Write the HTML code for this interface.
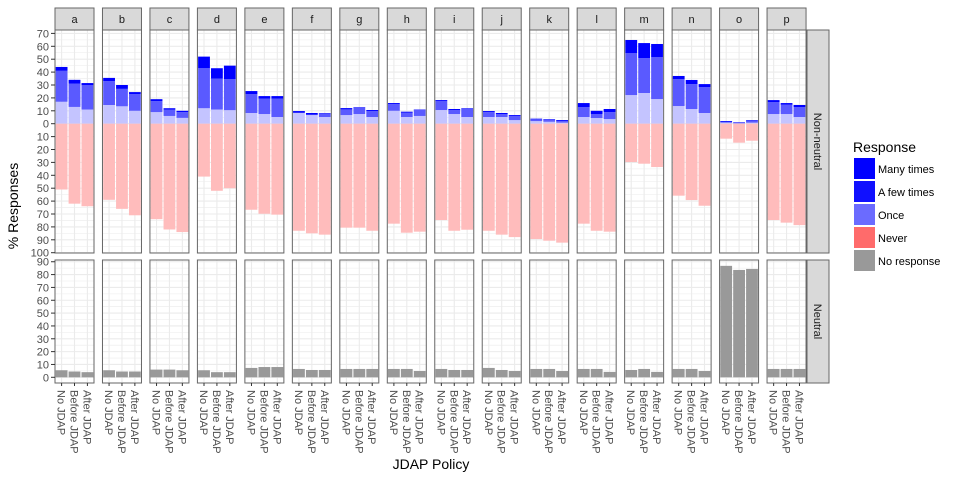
<!DOCTYPE html>
<html><head><meta charset="utf-8"><style>
body{margin:0;background:#fff;}
svg{display:block;font-family:"Liberation Sans",Arial,sans-serif;}
</style></head><body>
<svg id="chart" width="960" height="480" viewBox="0 0 960 480" xmlns="http://www.w3.org/2000/svg">
<g id="panels"></g>
<g id="axes"></g>
<text x="431" y="469" font-size="14" text-anchor="middle" fill="#000">JDAP Policy</text>
<text transform="translate(18,206) rotate(-90)" font-size="14" text-anchor="middle" fill="#000">% Responses</text>
<g id="legend"></g>
</svg>
<script>
const facets = ["a","b","c","d","e","f","g","h","i","j","k","l","m","n","o","p"];
const policies = ["No JDAP","Before JDAP","After JDAP"];
const onceVals = [[17,13,11],[14.5,13.5,10],[9,6,4.5],[12,11,10.5],[8.3,7.5,5.2],[8.3,6.7,5.2],[6.7,7.5,5.2],[10,5.2,6],[10.6,7.5,5.2],[5.2,5.2,2.8],[2,1.5,0.8],[5.2,4.4,3.6],[22.2,23.8,19.1],[13.7,11.4,8.3],[0.8,0.3,0.8],[7.5,7.5,5.2]];
const fewVals = [[24,18,19],[18.5,13.5,13],[8.5,5,4.5],[31,24,24],[14.7,11.9,14.2],[0.2,0.3,2.8],[4.4,5.2,4.6],[5.2,3.3,4.9],[7,3.1,6.2],[3.8,2.3,3.2],[1.4,1.3,1.2],[7.7,3.1,5.4],[32.6,27.1,32.6],[20.9,19.3,20.1],[0.5,0.2,1.5],[9.3,7.2,7.7]];
const manyVals = [[3,3,1.5],[2.5,3,1.5],[1.5,1,1],[9,8,10.5],[2.3,2,2],[1.3,1.3,0.3],[1,0.2,0.8],[0.8,0.8,0.2],[0.7,0.8,0.5],[0.8,0.8,0.7],[0.5,0.6,0.8],[3.1,2.5,2.4],[10.1,11.6,10.1],[2.4,3.2,2.3],[0.7,0.5,0.5],[1.5,1.3,1.6]];
const neverVals = [[51,62,64],[59,66,71],[74,82,84],[41,52,50],[66.7,69.8,70.5],[83,85,86],[80.6,80.6,83],[77.5,84.5,83.7],[74.7,83,82.2],[83,86,87.9],[89.4,90.7,92.2],[77.5,83,83.7],[29.7,31,33.6],[55.8,59.2,63.6],[11.6,14.7,13.2],[74.7,76.7,78.6]];
const noneVals = [[5.5,4.5,4],[5.5,4.5,4.5],[6,6,5.5],[5.5,4,4],[7.3,8,8],[6.5,5.7,5.7],[6.5,6.5,6.5],[6.5,6.5,4.9],[6.5,5.7,5.7],[7.3,5.7,4.9],[6.5,6.5,4.9],[6.5,6.5,4.2],[5.7,6.5,4.2],[6.5,6.5,4.9],[86.8,83.6,84.4],[6.5,6.5,6.5]];
const topTicks = [70,60,50,40,30,20,10,0,-10,-20,-30,-40,-50,-60,-70,-80,-90,-100];
const botTicks = [90,80,70,60,50,40,30,20,10,0];
const legendLabels = ["Many times","A few times","Once","Never","No response"];

const NS="http://www.w3.org/2000/svg";
function mk(tag,attrs,parent){const e=document.createElementNS(NS,tag);for(const k in attrs)e.setAttribute(k,attrs[k]);parent.appendChild(e);return e;}
const P0=55, PSTEP=47.47, PW=39;
const TOP={y0:30,y1:253}, BOT={y0:260,y1:383};
const yTop=v=>123.7-1.29*v;
const yBot=v=>377.3-1.284*v;
const xBand=(f,i)=>P0+PSTEP*f+6.6+12.9*i;
const BW=11.8;
const panels=document.getElementById('panels');
const axes=document.getElementById('axes');

facets.forEach((fc,f)=>{
  const x0=P0+PSTEP*f;
  [[TOP,yTop,72.6,-100],[BOT,yBot,91,-4.5]].forEach(([R,ys,hi,lo],ri)=>{
    const g=mk('g',{},panels);
    
    
    for(let v=Math.ceil(lo/5)*5;v<=hi;v+=5){
      const y=ys(v);
      const ln=mk('line',{x1:x0,x2:x0+PW,y1:y,y2:y,stroke:'#ebebeb','stroke-width':v%10===0?1.1:0.55},g);
      
      
    }
    for(let i=0;i<3;i++){
      const x=xBand(f,i);
      mk('line',{x1:x,x2:x,y1:R.y0,y2:R.y1,stroke:'#ebebeb','stroke-width':1.1},g);
    }
    if(ri===0){
      for(let i=0;i<3;i++){
        const xc=xBand(f,i)-BW/2;
        const segs=[[0,onceVals[f][i],'#c4c4ff','once'],[onceVals[f][i],onceVals[f][i]+fewVals[f][i],'#5a5aff','a-few-times'],[onceVals[f][i]+fewVals[f][i],onceVals[f][i]+fewVals[f][i]+manyVals[f][i],'#0000ff','many-times']];
        segs.forEach(s=>{
          const r=mk('rect',{x:xc,y:yTop(s[1]),width:BW,height:Math.max(0,yTop(s[0])-yTop(s[1])),fill:s[2]},g);
          
          
        });
        const r=mk('rect',{x:xc,y:yTop(0),width:BW,height:yTop(-neverVals[f][i])-yTop(0),fill:'#ffbcbc'},g);
        
        
      }
    } else {
      for(let i=0;i<3;i++){
        const xc=xBand(f,i)-BW/2;
        const r=mk('rect',{x:xc,y:yBot(noneVals[f][i]),width:BW,height:yBot(0)-yBot(noneVals[f][i]),fill:'#999999'},g);
        
        
      }
    }
    mk('rect',{x:x0,y:R.y0,width:PW,height:R.y1-R.y0,fill:'none',stroke:'#666','stroke-width':1},g);
  });
  const s=mk('g',{},panels);
  
  
  mk('rect',{x:x0,y:8,width:PW,height:22,fill:'#d9d9d9',stroke:'#666','stroke-width':1},s);
  const t=mk('text',{x:x0+PW/2,y:23,'font-size':11,'text-anchor':'middle',fill:'#1a1a1a'},s);
  t.textContent=fc;
  for(let i=0;i<3;i++){
    const x=xBand(f,i);
    mk('line',{x1:x,x2:x,y1:383,y2:386,stroke:'#333'},axes);
    const lt=mk('text',{transform:`translate(${x-4},390) rotate(90)`,'font-size':11,fill:'#4d4d4d'},axes);
    
    
    lt.textContent=policies[i];
  }
});
// right strips
[[TOP,'Non-neutral'],[BOT,'Neutral']].forEach(([R,lab])=>{
  const g=mk('g',{},panels);
  
  
  mk('rect',{x:807,y:R.y0,width:22,height:R.y1-R.y0,fill:'#d9d9d9',stroke:'#666','stroke-width':1},g);
  const t=mk('text',{transform:`translate(814,${(R.y0+R.y1)/2}) rotate(90)`,'font-size':11,'text-anchor':'middle',fill:'#1a1a1a'},g);
  t.textContent=lab;
});
topTicks.forEach(v=>{
  const y=yTop(v);
  mk('line',{x1:51,x2:55,y1:y,y2:y,stroke:'#333'},axes);
  const t=mk('text',{x:49,y:y+4,'font-size':11,'text-anchor':'end',fill:'#4d4d4d'},axes);
  
  
  t.textContent=Math.abs(v);
});
botTicks.forEach(v=>{
  const y=yBot(v);
  mk('line',{x1:51,x2:55,y1:y,y2:y,stroke:'#333'},axes);
  const t=mk('text',{x:49,y:y+4,'font-size':11,'text-anchor':'end',fill:'#4d4d4d'},axes);
  
  
  t.textContent=v;
});
const leg=document.getElementById('legend');
const lt=mk('text',{x:853,y:152,'font-size':14,fill:'#000'},leg);
lt.textContent='Response';
const legColors=['#0000ff','#1010ff','#6b6bff','#ff6b6b','#999999'];
legendLabels.forEach((l,i)=>{
  const g=mk('g',{},leg);
  
  
  mk('rect',{x:854,y:158+23*i,width:21,height:21,fill:legColors[i]},g);
  const t=mk('text',{x:878,y:173+23*i,'font-size':11,fill:'#000'},g);
  t.textContent=l;
});
</script>
</body></html>
